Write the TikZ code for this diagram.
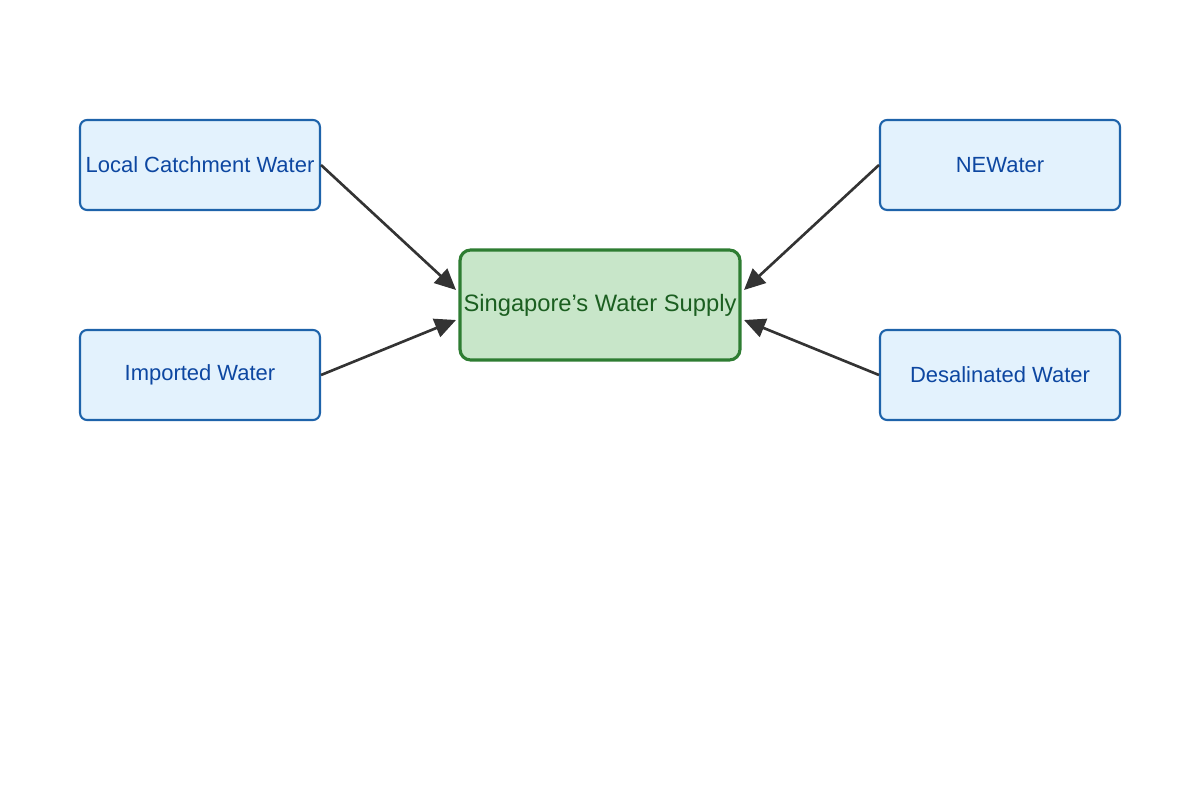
\documentclass[tikz,border=0pt]{standalone}
\usepackage{fontspec}
\setmainfont{Liberation Sans}
\usetikzlibrary{arrows.meta}
\definecolor{bfill}{HTML}{E3F2FD}
\definecolor{bdraw}{HTML}{1E63AA}
\definecolor{btext}{HTML}{0D47A1}
\definecolor{gfill}{HTML}{C8E6C9}
\definecolor{gdraw}{HTML}{2E7D32}
\definecolor{gtext}{HTML}{1B5E20}
\definecolor{arr}{HTML}{333333}
\begin{document}
\begin{tikzpicture}[x=0.02cm,y=-0.02cm,
  src/.style={draw=bdraw,fill=bfill,text=btext,line width=1.2pt,rounded corners=4pt,minimum width=4.8cm,minimum height=1.8cm,font=\fontsize{12.5}{15}\selectfont,inner sep=0pt},
  hub/.style={draw=gdraw,fill=gfill,text=gtext,line width=1.8pt,rounded corners=6pt,minimum width=5.6cm,minimum height=2.2cm,font=\fontsize{13.5}{16}\selectfont,inner sep=0pt},
  conn/.style={draw=arr,line width=1.5pt,-{Triangle[length=12pt,width=11pt]}}]
\useasboundingbox (0,0) rectangle (1200,800);
\node[src] (lc) at (200,165) {Local Catchment Water};
\node[src] (im) at (200,375) {Imported Water};
\node[src] (nw) at (1000,165) {NEWater};
\node[src] (de) at (1000,375) {Desalinated Water};
\node[hub] (sg) at (600,305) {Singapore's Water Supply};
\coordinate (t1) at (456,290);
\coordinate (t2) at (456,320);
\coordinate (t3) at (744,290);
\coordinate (t4) at (744,320);
\draw[conn] (lc.east) -- (t1);
\draw[conn] (im.east) -- (t2);
\draw[conn] (nw.west) -- (t3);
\draw[conn] (de.west) -- (t4);
\end{tikzpicture}
\end{document}
